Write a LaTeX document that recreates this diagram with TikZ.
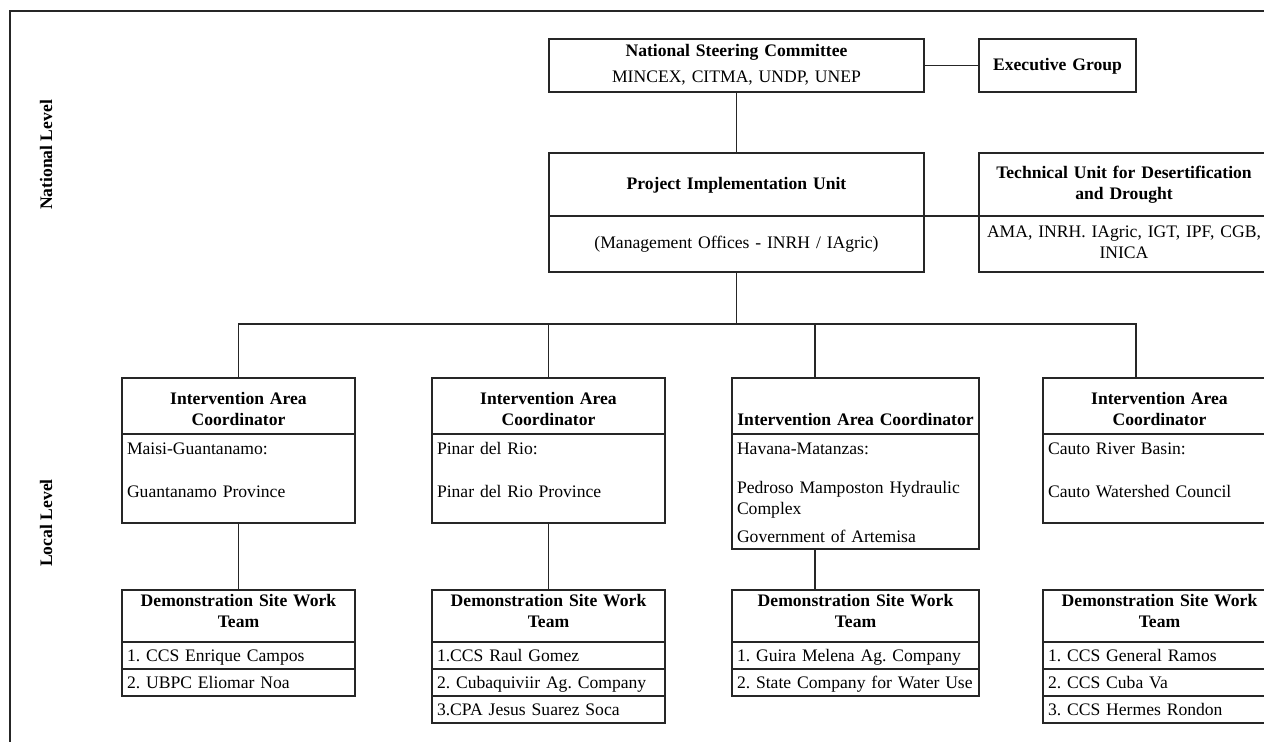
\documentclass[tikz,border=0pt]{standalone}
\usepackage{fontspec}
\setmainfont{Liberation Serif}
\usetikzlibrary{calc}
\newcommand{\pxu}{0.75pt}
\newcommand{\boxfont}{\fontsize{13.2}{15.75}\selectfont\frenchspacing}

\begin{document}
\begin{tikzpicture}[x=0.75pt, y=-0.75pt, line width=1.3pt, color=black!85,
	cell/.style n args={3}{draw, anchor=north west, inner xsep=5*\pxu, inner ysep=0pt, outer sep=0pt,
		text width={(#1-10)*\pxu}, text height={#3*\pxu}, text depth={(#2-#3)*\pxu}, text=black, font=\boxfont},
	head/.style={align=center, font=\boxfont\bfseries},
	lvl/.style={rotate=90, text=black, font=\boxfont\bfseries}]
	\useasboundingbox (0,0) rectangle (1264,742);
	\draw (10,11) rectangle (1300,770);
	\node[lvl] (natl) at (46,155) {National Level};
	\node[lvl] (locl) at (46,523) {Local Level};
	\node[cell={375}{53}{18}, head] (nsc) at (549,39) {National Steering Committee\\[3.75pt]{\mdseries MINCEX, CITMA, UNDP, UNEP}};
	\node[cell={157}{53}{32}, head] (eg) at (979,39) {Executive Group};
	\node[cell={375}{63}{36}, head] (piuh) at (549,153) {Project Implementation Unit};
	\node[cell={375}{56}{32}, align=center] (piub) at (549,216) {(Management Offices - INRH / IAgric)};
	\node[cell={290}{63}{25}, head] (tuh) at (979,153) {Technical Unit for Desertification\\and Drought};
	\node[cell={290}{56}{21}, align=center] (tub) at (979,216) {AMA, INRH. IAgric, IGT, IPF, CGB,\\INICA};
	\node[cell={233}{56}{26}, head] (c1h) at (122,378) {Intervention Area\\Coordinator};
	\node[cell={233}{89}{20}, align=left] (c1b) at (122,434) {Maisi-Guantanamo:\\[16.5pt]Guantanamo Province};
	\node[cell={233}{56}{26}, head] (c2h) at (432,378) {Intervention Area\\Coordinator};
	\node[cell={233}{89}{20}, align=left] (c2b) at (432,434) {Pinar del Rio:\\[16.5pt]Pinar del Rio Province};
	\node[cell={247}{56}{47}, head, inner xsep=1*\pxu, text width=245*\pxu] (c3h) at (732,378) {Intervention Area Coordinator};
	\node[cell={247}{115}{20}, align=left] (c3b) at (732,434) {Havana-Matanzas:\\[13.5pt]Pedroso Mamposton Hydraulic\\Complex\\[5.25pt]Government of Artemisa};
	\node[cell={233}{56}{26}, head] (c4h) at (1043,378) {Intervention Area\\Coordinator};
	\node[cell={233}{89}{20}, align=left] (c4b) at (1043,434) {Cauto River Basin:\\[16.5pt]Cauto Watershed Council};
	\node[cell={233}{52}{16}, head] (d1h) at (122,590) {Demonstration Site Work\\Team};
	\node[cell={233}{27}{19}, align=left] (d1a) at (122,642) {1. CCS Enrique Campos};
	\node[cell={233}{27}{19}, align=left] (d1b) at (122,669) {2. UBPC Eliomar Noa};
	\node[cell={233}{52}{16}, head] (d2h) at (432,590) {Demonstration Site Work\\Team};
	\node[cell={233}{27}{19}, align=left] (d2a) at (432,642) {1.CCS Raul Gomez};
	\node[cell={233}{27}{19}, align=left] (d2b) at (432,669) {2. Cubaquiviir Ag. Company};
	\node[cell={233}{27}{19}, align=left] (d2c) at (432,696) {3.CPA Jesus Suarez Soca};
	\node[cell={247}{52}{16}, head] (d3h) at (732,590) {Demonstration Site Work\\Team};
	\node[cell={247}{27}{19}, align=left] (d3a) at (732,642) {1. Guira Melena Ag. Company};
	\node[cell={247}{27}{19}, align=left] (d3b) at (732,669) {2. State Company for Water Use};
	\node[cell={233}{52}{16}, head] (d4h) at (1043,590) {Demonstration Site Work\\Team};
	\node[cell={233}{27}{19}, align=left] (d4a) at (1043,642) {1. CCS General Ramos};
	\node[cell={233}{27}{19}, align=left] (d4b) at (1043,669) {2. CCS Cuba Va};
	\node[cell={233}{27}{19}, align=left] (d4c) at (1043,696) {3. CCS Hermes Rondon};
	\coordinate (j3) at (815,324);
	\coordinate (j4) at (1136,324);
	\draw (nsc.east) -- (eg.west);
	\draw (nsc.south) -- (piuh.north);
	\draw (piuh.south east) -- (tub.north west);
	\draw (piub.south) -- (piub.south |- j3);
	\draw (c1h.north) |- (j4) -- (j4 |- c4h.north);
	\draw (c2h.north) -- (c2h.north |- j3);
	\draw (j3) -- (j3 |- c3h.north);
	\draw (c1b.south) -- (d1h.north);
	\draw (c2b.south) -- (d2h.north);
	\draw (c3b.south -| j3) -- (j3 |- d3h.north);
\end{tikzpicture}
\end{document}
